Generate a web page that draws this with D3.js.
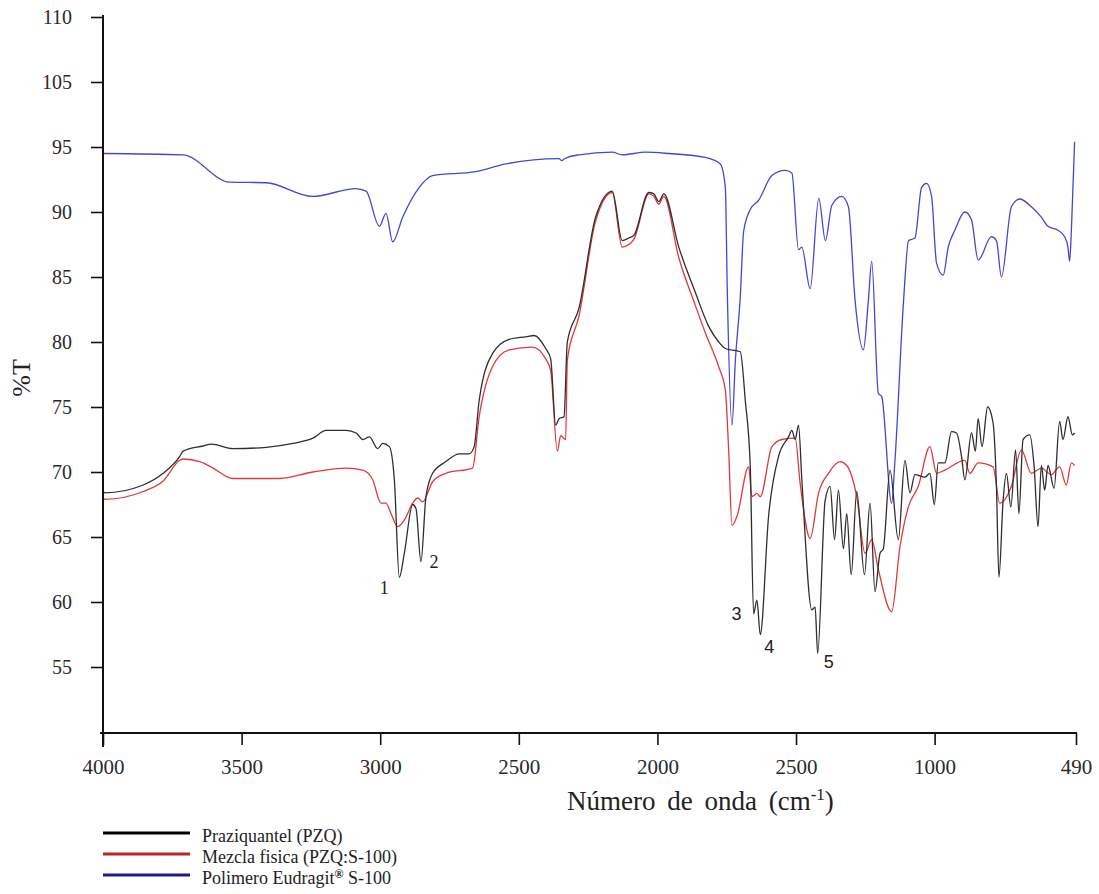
<!DOCTYPE html>
<html>
<head>
<meta charset="utf-8">
<script src="https://cdn.jsdelivr.net/npm/d3@7"></script>
<style>
  html, body { margin: 0; padding: 0; background: #fff; }
  svg { display: block; font-family: "Liberation Serif", "Times New Roman", serif; }
</style>
</head>
<body>
<svg id="chart" width="1099" height="894"></svg>
<script>
// FTIR spectra: [wavenumber (cm-1), %T]
const praziquantel = [
  [4000,68.5],[3993,68.4],[3855,69.0],[3783,69.9],[3723,71.2],[3711,71.6],[3639,72.0],[3609,72.15],
  [3531,71.8],[3411,71.9],[3315,72.2],[3243,72.6],[3195,73.2],[3123,73.2],[3087,73.0],[3063,72.5],
  [3039,72.7],[3009,71.8],[2991,72.2],[2967,71.95],[2949,69.4],[2931,61.9],[2913,63.75],[2883,67.5],
  [2871,67.2],[2853,63.1],[2835,68.1],[2811,69.9],[2763,70.8],[2715,71.4],[2679,71.4],[2661,71.95],
  [2643,75.5],[2595,79.1],[2535,80.2],[2475,80.4],[2445,80.5],[2403,79.5],[2385,78.7],[2367,73.6],
  [2355,74.1],[2337,74.25],[2325,80.0],[2283,82.6],[2223,89.6],[2163,91.6],[2127,87.8],[2103,88.0],
  [2085,88.2],[2031,91.5],[2013,91.4],[1995,90.8],[1977,91.4],[1923,87.3],[1863,83.8],[1815,81.2],
  [1779,80.0],[1755,79.5],[1701,79.25],[1683,75.5],[1665,70.4],[1653,59.1],[1641,60.15],[1629,57.5],
  [1599,66.6],[1563,71.2],[1527,72.7],[1515,73.2],[1503,72.5],[1491,73.6],[1479,69.4],[1443,59.4],
  [1431,59.6],[1422,56.05],[1395,67.8],[1377,68.9],[1361,64.8],[1347,68.6],[1329,64.1],[1317,66.8],
  [1301,62.1],[1281,68.5],[1253,62.1],[1233,67.6],[1215,60.8],[1197,63.75],[1185,64.1],[1161,70.15],
  [1131,64.8],[1107,70.9],[1089,68.4],[1071,69.8],[1035,69.6],[1017,69.9],[1001,67.5],[987,70.7],
  [963,70.7],[939,73.1],[921,73.0],[903,71.2],[891,69.4],[867,73.0],[853,71.6],[843,74.1],
  [829,71.95],[809,75.0],[789,73.75],[777,68.9],[768,61.9],[753,67.8],[741,69.9],[725,67.3],
  [708,71.7],[696,66.8],[681,72.5],[657,72.85],[641,70.4],[627,65.8],[615,70.5],[603,68.6],
  [591,70.5],[569,68.75],[549,73.9],[537,72.5],[519,74.25],[503,72.85],[495,73.0]
];

const mezclaFisica = [
  [4000,68.0],[3993,67.9],[3855,68.5],[3783,69.3],[3723,70.9],[3711,71.0],[3651,70.8],[3603,70.3],
  [3531,69.5],[3363,69.5],[3243,70.0],[3123,70.3],[3063,70.15],[3027,69.4],[2997,67.6],[2979,67.6],
  [2961,66.8],[2937,65.8],[2913,66.3],[2883,67.6],[2865,68.0],[2847,67.7],[2811,69.25],[2763,69.9],
  [2667,70.3],[2643,74.25],[2595,78.1],[2535,79.4],[2451,79.6],[2403,78.7],[2385,77.8],[2361,71.6],
  [2349,72.8],[2331,72.5],[2325,78.6],[2283,82.0],[2223,89.3],[2163,91.5],[2127,87.3],[2103,87.5],
  [2085,87.9],[2031,91.4],[2013,91.2],[1995,90.6],[1977,91.2],[1923,86.5],[1863,82.8],[1827,80.7],
  [1779,78.1],[1755,76.3],[1743,71.7],[1731,65.9],[1713,66.6],[1671,70.4],[1659,68.1],[1641,68.35],
  [1629,68.1],[1587,71.95],[1551,72.5],[1503,72.6],[1485,69.1],[1449,64.9],[1419,68.35],[1383,69.9],
  [1341,70.8],[1317,70.5],[1281,68.1],[1251,63.75],[1227,64.8],[1203,62.5],[1155,59.25],[1125,64.25],
  [1095,67.3],[1059,68.9],[1017,71.95],[993,69.9],[963,70.15],[891,70.9],[873,69.9],[843,70.7],
  [789,70.4],[765,67.6],[723,68.9],[687,71.7],[651,69.9],[615,70.3],[579,69.8],[549,70.4],
  [525,69.0],[507,70.7],[495,70.5]
];

const eudragit = [
  [4000,94.5],[3712,94.4],[3543,92.3],[3411,92.25],[3244,91.2],[3087,91.8],[3051,91.6],[3003,88.9],
  [2979,89.9],[2955,87.7],[2919,89.6],[2859,91.9],[2811,92.8],[2655,93.1],[2547,93.7],[2355,94.1],
  [2345,93.95],[2335,94.1],[2283,94.4],[2163,94.6],[2127,94.4],[2043,94.6],[1959,94.5],[1827,94.2],
  [1773,93.7],[1755,91.9],[1748,84.0],[1731,73.6],[1719,78.5],[1701,83.5],[1689,88.5],[1665,90.2],
  [1635,90.9],[1587,92.8],[1539,93.2],[1515,93.0],[1491,87.1],[1479,87.3],[1449,84.1],[1418,91.05],
  [1394,87.8],[1371,90.5],[1335,91.2],[1311,90.4],[1287,83.2],[1257,79.4],[1239,83.2],[1227,86.2],
  [1203,76.05],[1191,75.8],[1155,67.6],[1143,70.9],[1112,83.2],[1094,87.8],[1071,88.0],[1047,91.9],
  [1029,92.2],[1011,91.2],[993,86.05],[969,85.15],[951,87.3],[927,88.6],[891,90.0],[867,89.4],
  [843,86.3],[795,88.1],[777,87.8],[759,85.0],[723,90.4],[693,91.0],[651,90.4],[615,89.6],
  [591,88.9],[555,88.6],[531,88.1],[519,87.3],[513,86.2],[507,88.4],[495,95.4]
];

const xTickValues = [4000, 3500, 3000, 2500, 2000, 1500, 1000, 490];
const xTickLabels = ["4000", "3500", "3000", "2500", "2000", "2500", "1000", "490"];
const yTickValues = [105, 100, 95, 90, 85, 80, 75, 70, 65, 60, 55];
const yTickLabels = ["110", "105", "95", "90", "85", "80", "75", "70", "65", "60", "55"];

const seriesNames = ["Praziquantel (PZQ)", "Mezcla fisica (PZQ:S-100)", "Polimero Eudragit® S-100"];
const peakNumbers = ["1", "2", "3", "4", "5"];
const peakWavenumbers = [2931, 2853, 1653, 1629, 1422];

// ---- drawing ----
const serif = '"Liberation Serif", "Times New Roman", serif';
const sans = '"Liberation Sans", Arial, sans-serif';

const svg = d3.select("#chart");
svg.append("rect").attr("width", 1099).attr("height", 894).attr("fill", "#fff");

const x = d3.scaleLinear().domain([4000, 490]).range([103, 1076]);
const y = d3.scaleLinear().domain([50, 105]).range([732, 17]);

const lineColors = ["#2e2e2e", "#e0393c", "#4646d2"];
const legendColors = ["#000000", "#b8262b", "#1c1c8e"];
const seriesData = [eudragit, mezclaFisica, praziquantel];
const seriesColor = [lineColors[2], lineColors[1], lineColors[0]];

const line = d3.line()
  .x(d => x(d[0]))
  .y(d => y(d[1]))
  .curve(d3.curveMonotoneX);

svg.append("g").selectAll("path")
  .data(seriesData)
  .join("path")
  .attr("d", d => line(d))
  .attr("fill", "none")
  .attr("stroke", (d, i) => seriesColor[i])
  .attr("stroke-width", 1.3)
  .attr("stroke-linejoin", "round");

// axes
const xAxis = d3.axisBottom(x)
  .tickValues(xTickValues)
  .tickFormat((d, i) => xTickLabels[i])
  .tickSize(12).tickSizeOuter(0).tickPadding(14);
const yAxis = d3.axisLeft(y)
  .tickValues(yTickValues)
  .tickFormat((d, i) => yTickLabels[i])
  .tickSize(12).tickSizeOuter(0).tickPadding(19);

const gx = svg.append("g").attr("transform", "translate(0,733)").call(xAxis)
  .attr("font-family", serif).attr("font-size", 21);
const gy = svg.append("g").attr("transform", "translate(103,0)").call(yAxis)
  .attr("font-family", serif).attr("font-size", 20);
[gx, gy].forEach(g => {
  g.select(".domain").remove();
  g.selectAll(".tick line").attr("stroke", "#111").attr("stroke-width", 1.6);
  g.selectAll(".tick text").attr("fill", "#2a2a2a");
});

svg.append("line").attr("x1", 103).attr("x2", 103).attr("y1", 15).attr("y2", 747)
  .attr("stroke", "#111").attr("stroke-width", 2);
svg.append("line").attr("x1", 100).attr("x2", 1077).attr("y1", 733).attr("y2", 733)
  .attr("stroke", "#111").attr("stroke-width", 2);

// axis titles
svg.append("text")
  .attr("transform", "translate(30,378) rotate(-90)")
  .attr("text-anchor", "middle")
  .attr("fill", "#222")
  .attr("font-family", serif)
  .attr("font-size", 26)
  .text("%T");

const xt = svg.append("text")
  .attr("x", 567).attr("y", 810)
  .attr("fill", "#222")
  .attr("font-family", serif)
  .attr("font-size", 27)
  .style("word-spacing", "5px");
xt.append("tspan").text("Número de onda (cm");
xt.append("tspan").attr("dy", -10).attr("font-size", 17).text("-1");
xt.append("tspan").attr("dy", 10).text(")");

// peak numbers on the praziquantel spectrum
const peakOffsets = [[-15, 11], [13, 0], [-17, 0], [9, 12], [11, 9]];
const peakFonts = [serif, serif, sans, sans, sans];
svg.append("g").selectAll("text")
  .data(peakNumbers)
  .join("text")
  .attr("x", (d, i) => x(peakWavenumbers[i]) + peakOffsets[i][0])
  .attr("y", (d, i) => y(praziquantel.find(p => p[0] === peakWavenumbers[i])[1]) + peakOffsets[i][1])
  .attr("text-anchor", "middle")
  .attr("dominant-baseline", "central")
  .attr("fill", "#222")
  .attr("font-family", (d, i) => peakFonts[i])
  .attr("font-size", 18)
  .text(d => d);

// legend
const legend = svg.append("g").attr("font-family", serif);
const rowBase = [842, 863, 884];
seriesNames.forEach((name, i) => {
  legend.append("line")
    .attr("x1", 103).attr("x2", 190)
    .attr("y1", rowBase[i] - 9).attr("y2", rowBase[i] - 9)
    .attr("stroke", legendColors[i]).attr("stroke-width", 3);
  const t = legend.append("text")
    .attr("x", 202).attr("y", rowBase[i])
    .attr("fill", "#222")
    .attr("font-size", 18);
  const parts = name.split("®");
  t.append("tspan").text(parts[0]);
  if (parts.length > 1) {
    t.append("tspan").attr("dy", -6).attr("font-size", 12).attr("font-weight", "bold").text("®");
    t.append("tspan").attr("dy", 6).text(parts[1]);
  }
});
</script>
</body>
</html>
